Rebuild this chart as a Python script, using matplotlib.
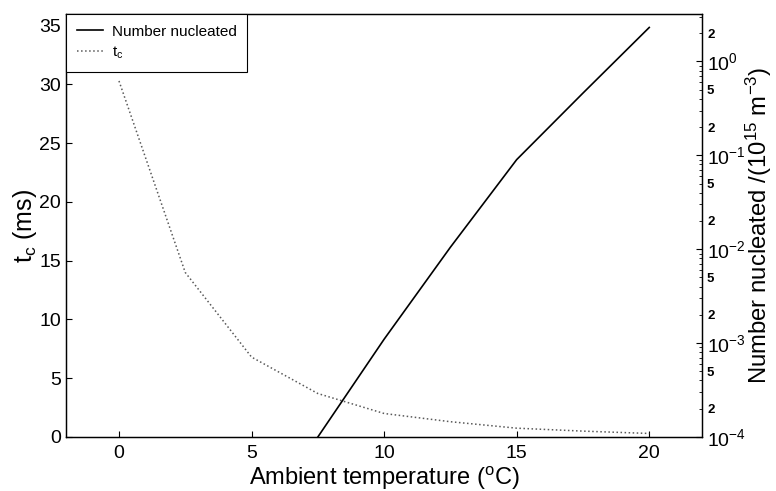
import matplotlib
matplotlib.use("Agg")
import matplotlib.pyplot as plt
import numpy as np
from matplotlib.ticker import LogLocator, FuncFormatter

plt.rcParams['font.family'] = ['Liberation Sans', 'DejaVu Sans']
plt.rcParams['mathtext.fontset'] = 'custom'
plt.rcParams['mathtext.rm'] = 'Liberation Sans'
plt.rcParams['mathtext.it'] = 'Liberation Sans:italic'

# --- datos ---
temp_tc = [0, 2.5, 5, 7.5, 10, 12.5, 15, 17.5, 20]
tc_ms = [30.3, 14.0, 6.8, 3.7, 2.0, 1.3, 0.75, 0.5, 0.3]

temp_n = [7.5, 10, 12.5, 15, 17.5, 20]
n_nucleated = [1.0e-4, 1.1e-3, 1.05e-2, 9.0e-2, 0.46, 2.3]

x_ticks = [0, 5, 10, 15, 20]
y_ticks = [0, 5, 10, 15, 20, 25, 30, 35]

fig = plt.figure(figsize=(7.76, 4.91), dpi=100)
ax1 = fig.add_axes([0.085, 0.11, 0.82, 0.8615])

l_tc, = ax1.plot(temp_tc, tc_ms, linestyle=':', color='0.35', linewidth=1.1, label=r't$_{\rm c}$')
ax1.set_xlim(-2, 22)
ax1.set_ylim(0, 36)
ax1.set_xticks(x_ticks)
ax1.set_yticks(y_ticks)
ax1.tick_params(direction='in', labelsize=14, length=4, width=0.8)
ax1.tick_params(axis='x', pad=6)
ax1.set_xlabel(r'Ambient temperature ($^{\rm o}$C)', fontsize=17, labelpad=2)
ax1.set_ylabel(r't$_{\rm c}$ (ms)', fontsize=18, labelpad=0)

# eje derecho logaritmico
ax2 = ax1.twinx()
l_n, = ax2.plot(temp_n, n_nucleated, color='black', linewidth=1.2, label='Number nucleated')
ax2.set_yscale('log')
ax2.set_ylim(1e-4, 3.2)
ax2.yaxis.set_major_locator(LogLocator(base=10, numticks=10))
ax2.yaxis.set_major_formatter(FuncFormatter(lambda v, p: r'10$^{%d}$' % round(np.log10(v))))
ax2.yaxis.set_minor_locator(LogLocator(base=10, subs=(2, 3, 4, 5, 6, 7, 8, 9), numticks=10))

def minor_fmt(v, p):
    d = round(v / 10 ** np.floor(np.log10(v) + 1e-9))
    return str(d) if d in (2, 5) else ''

ax2.yaxis.set_minor_formatter(FuncFormatter(minor_fmt))
ax2.tick_params(which='major', direction='in', labelsize=14, length=4, width=0.8)
ax2.tick_params(which='minor', direction='in', labelsize=9.5, length=2, width=0.6)
for t in ax2.yaxis.get_minorticklabels():
    t.set_fontweight('bold')
ax2.set_ylabel(r'Number nucleated /(10$^{15}$ m$^{-3}$)', fontsize=17.2, labelpad=-2)

leg = ax2.legend(handles=[l_n, l_tc], loc='upper left', fontsize=11, fancybox=False,
                 framealpha=1, edgecolor='black', borderaxespad=0, handlelength=1.7,
                 handletextpad=0.6, borderpad=0.7, labelspacing=0.4)
leg.get_frame().set_linewidth(0.8)

for ax in (ax1, ax2):
    for s in ax.spines.values():
        s.set_linewidth(0.9)

fig.savefig('out.png', dpi=100)
